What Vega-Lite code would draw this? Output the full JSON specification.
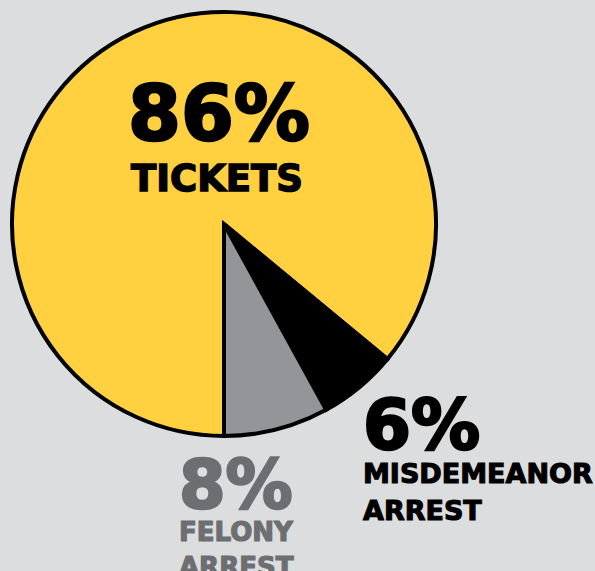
{
  "$schema": "https://vega.github.io/schema/vega-lite/v6.json",
  "width": 448,
  "height": 448,
  "autosize": "none",
  "padding": {"left": 0, "top": 0, "right": 147, "bottom": 123},
  "background": "#dcddde",
  "config": {"view": {"stroke": null}, "text": {"font": "DejaVu Sans", "fontWeight": "bold"}},
  "data": {"values": [
    {"category": "Tickets", "share": 0.86, "name": "TICKETS", "rank": 1},
    {"category": "Misdemeanor arrest", "share": 0.06, "name": "MISDEMEANOR\nARREST", "rank": 2},
    {"category": "Felony arrest", "share": 0.08, "name": "FELONY\nARREST", "rank": 3}
  ]},
  "layer": [
    {
      "mark": {"type": "arc", "outerRadius": 212, "stroke": "#000000", "strokeWidth": 4},
      "encoding": {
        "theta": {"field": "share", "type": "quantitative", "stack": true, "scale": {"range": [3.14159265, 9.42477796]}},
        "order": {"field": "rank", "type": "quantitative"},
        "color": {"field": "category", "type": "nominal", "legend": null,
          "scale": {"domain": ["Tickets", "Misdemeanor arrest", "Felony arrest"], "range": ["#ffd040", "#000000", "#939598"]}}
      }
    },
    {
      "transform": [{"filter": "datum.rank == 1"}],
      "mark": {"type": "text", "fontSize": 76, "align": "center", "baseline": "alphabetic", "dx": -5, "dy": -84, "color": "#000000", "stroke": "#000000", "strokeWidth": 2.5},
      "encoding": {"text": {"field": "share", "type": "quantitative", "format": ".0%"}}
    },
    {
      "transform": [{"filter": "datum.rank == 1"}],
      "mark": {"type": "text", "fontSize": 37, "align": "center", "baseline": "alphabetic", "dx": -7, "dy": -33, "color": "#000000", "stroke": "#000000", "strokeWidth": 1.5},
      "encoding": {"text": {"field": "name", "type": "nominal"}}
    },
    {
      "transform": [{"filter": "datum.rank == 2"}],
      "mark": {"type": "text", "fontSize": 69, "align": "left", "baseline": "alphabetic", "dx": 139, "dy": 225, "color": "#000000", "stroke": "#000000", "strokeWidth": 2.5},
      "encoding": {"text": {"field": "share", "type": "quantitative", "format": ".0%"}}
    },
    {
      "transform": [{"filter": "datum.rank == 2"}],
      "mark": {"type": "text", "fontSize": 27, "align": "left", "baseline": "top", "lineBreak": "\n", "lineHeight": 37, "dx": 139, "dy": 238, "color": "#000000", "stroke": "#000000", "strokeWidth": 1.1},
      "encoding": {"text": {"field": "name", "type": "nominal"}}
    },
    {
      "transform": [{"filter": "datum.rank == 3"}],
      "mark": {"type": "text", "fontSize": 67, "align": "left", "baseline": "alphabetic", "dx": -45, "dy": 284, "color": "#6d6e71", "stroke": "#6d6e71", "strokeWidth": 2.5},
      "encoding": {"text": {"field": "share", "type": "quantitative", "format": ".0%"}}
    },
    {
      "transform": [{"filter": "datum.rank == 3"}],
      "mark": {"type": "text", "fontSize": 26, "align": "left", "baseline": "top", "lineBreak": "\n", "lineHeight": 35, "dx": -45, "dy": 296, "color": "#6d6e71", "stroke": "#6d6e71", "strokeWidth": 1.2},
      "encoding": {"text": {"field": "name", "type": "nominal"}}
    }
  ]
}
